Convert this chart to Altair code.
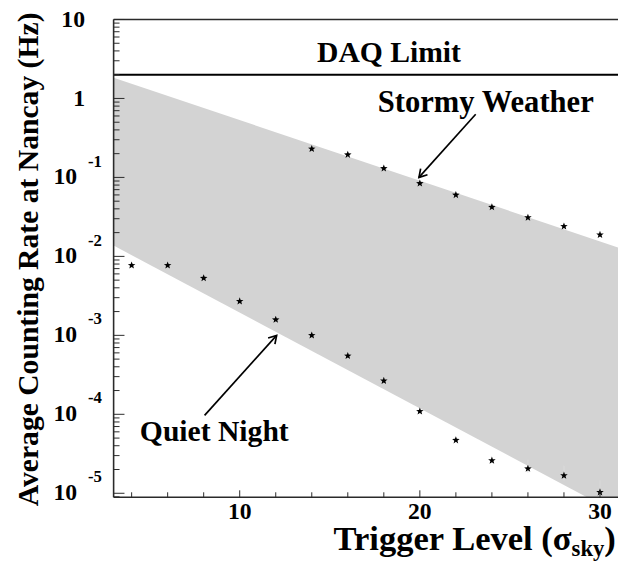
import math
import altair as alt
import pandas as pd

# ---------------- data ----------------
stormy_x = [14, 16, 18, 20, 22, 24, 26, 28, 30]
stormy_y = [0.230, 0.194, 0.130, 0.084, 0.060, 0.042, 0.031, 0.024, 0.0188]

quiet_x = [4, 6, 8, 10, 12, 14, 16, 18, 20, 22, 24, 26, 28, 30]
quiet_y = [7.7e-3, 7.7e-3, 5.3e-3, 2.7e-3, 1.58e-3, 1.0e-3, 5.5e-4, 2.66e-4,
           1.09e-4, 4.7e-5, 2.6e-5, 2.05e-5, 1.68e-5, 1.03e-5]

err_x = [26, 28, 30]
err_lo = [1.83e-5, 1.45e-5, 9.4e-6]
err_hi = [2.66e-5, 2.24e-5, 1.45e-5]

band_x = [3, 31]
band_hi = [1.83, 0.013]
band_lo = [0.0137, 5.5e-6]

daq_rate = 2.0
daq_x = [3, 31]

ytick_vals = [10, 1, 0.1, 0.01, 0.001, 1e-4, 1e-5]
ytick_base = ["10", "1", "10", "10", "10", "10", "10"]
ytick_exp = ["", "", "-1", "-2", "-3", "-4", "-5"]

xtick_major = [10, 20, 30]
xtick_minor = [4, 6, 8, 12, 14, 16, 18, 22, 24, 26, 28]

arrow_label = ["Stormy Weather", "Quiet Night"]
arrow_x0 = [23.1, 8.05]
arrow_y0 = [0.63, 9.7e-5]
arrow_x1 = [19.95, 12.05]
arrow_y1 = [0.1, 1.0e-3]

# ---------------- geometry / style ----------------
W, H = 511, 484
XMIN, XMAX = 3, 31
YMIN, YMAX = 10 ** -5.05, 10
FONT = "Liberation Serif"

xscale = alt.Scale(domain=[XMIN, XMAX], nice=False, zero=False)
yscale = alt.Scale(type="log", domain=[YMIN, YMAX], nice=False)

def X(f):
    return alt.X(f, type="quantitative", scale=xscale, axis=None)

def Y(f):
    return alt.Y(f, type="quantitative", scale=yscale, axis=None)

# star symbol path
pts = []
for k in range(10):
    r = 1.0 if k % 2 == 0 else 0.42
    a = math.radians(-90 + 36 * k)
    pts.append(f"{r*math.cos(a):.3f},{r*math.sin(a):.3f}")
STAR = "M" + " L".join(pts) + " Z"
CHEVRON = "M -1 -0.6 L 0 0 L -1 0.6"

def px(x):
    return (x - XMIN) / (XMAX - XMIN) * W

def py(y):
    return (math.log10(YMAX) - math.log10(y)) / (math.log10(YMAX) - math.log10(YMIN)) * H

arrow_angle = [
    (math.degrees(math.atan2(py(b) - py(a), px(d) - px(c))) + 360) % 360
    for a, b, c, d in zip(arrow_y0, arrow_y1, arrow_x0, arrow_x1)
]

band_df = pd.DataFrame({"x": band_x, "hi": band_hi, "lo": band_lo})
stormy_df = pd.DataFrame({"x": stormy_x, "y": stormy_y})
quiet_df = pd.DataFrame({"x": quiet_x, "y": quiet_y})
err_df = pd.DataFrame({"x": err_x, "lo": err_lo, "hi": err_hi})
daq_df = pd.DataFrame({"x": [daq_x[0]], "x2": [daq_x[1]], "y": [daq_rate]})
arrow_df = pd.DataFrame({"label": arrow_label, "x": arrow_x0, "y": arrow_y0,
                         "x2": arrow_x1, "y2": arrow_y1, "angle": arrow_angle})
ytick_df = pd.DataFrame({"y": ytick_vals, "base": ytick_base, "exp": ytick_exp})
yminor = []
for d in range(-6, 2):
    for m in range(2, 10):
        v = m * 10 ** d
        if YMIN <= v <= YMAX:
            yminor.append(v)
yminor_df = pd.DataFrame({"y": yminor})
ymajor_df = pd.DataFrame({"y": ytick_vals})
xmajor_df = pd.DataFrame({"x": xtick_major, "lab": [str(v) for v in xtick_major]})
xminor_df = pd.DataFrame({"x": xtick_minor})
one_df = pd.DataFrame({"k": [0]})

AX = "#2a2a2a"

band = alt.Chart(band_df).mark_area(color="#d3d3d3", clip=True).encode(
    x=X("x"), y=Y("hi"), y2="lo")

daq = alt.Chart(daq_df).mark_rule(color="black", strokeWidth=2).encode(
    x=X("x"), x2="x2", y=Y("y"))

errs = alt.Chart(err_df).mark_rule(color="#dadada", strokeWidth=1).encode(
    x=X("x"), y=Y("lo"), y2="hi")

stars_s = alt.Chart(stormy_df).mark_point(
    shape=STAR, filled=True, color="black", size=64, opacity=1).encode(x=X("x"), y=Y("y"))
stars_q = alt.Chart(quiet_df).mark_point(
    shape=STAR, filled=True, color="black", size=64, opacity=1, clip=True).encode(x=X("x"), y=Y("y"))

arrow_line = alt.Chart(arrow_df).mark_rule(color="black", strokeWidth=1.7).encode(
    x=X("x"), y=Y("y"), x2="x2", y2="y2")
arrow_head = alt.Chart(arrow_df).mark_point(
    shape=CHEVRON, filled=False, color="black", strokeWidth=1.7, size=240, opacity=1
).encode(x=X("x2"), y=Y("y2"), angle=alt.Angle("angle:Q", scale=None))

# frame
frame_left = alt.Chart(one_df).mark_rule(color=AX, strokeWidth=1.6).encode(
    x=alt.value(0), y=alt.value(0), y2=alt.value(H))
frame_top = alt.Chart(one_df).mark_rule(color=AX, strokeWidth=1.6).encode(
    x=alt.value(0), x2=alt.value(W), y=alt.value(0))
frame_bot = alt.Chart(one_df).mark_rule(color=AX, strokeWidth=1.6).encode(
    x=alt.value(0), x2=alt.value(W), y=alt.value(H))

# ticks (inward)
yt_major = alt.Chart(ymajor_df).mark_rule(color=AX, strokeWidth=1).encode(
    y=Y("y"), x=alt.value(0), x2=alt.value(11))
yt_minor = alt.Chart(yminor_df).mark_rule(color=AX, strokeWidth=1).encode(
    y=Y("y"), x=alt.value(0), x2=alt.value(6))
xt_major = alt.Chart(xmajor_df).mark_rule(color=AX, strokeWidth=1).encode(
    x=X("x"), y=alt.value(H), y2=alt.value(H - 7))
xt_minor = alt.Chart(xminor_df).mark_rule(color=AX, strokeWidth=1).encode(
    x=X("x"), y=alt.value(H), y2=alt.value(H - 5))

# tick labels
txt = dict(font=FONT, fontWeight="bold", color="black", baseline="middle")
ylab_plain = alt.Chart(ytick_df).transform_filter("datum.exp == ''").mark_text(
    align="right", fontSize=24, dy=1, **txt).encode(y=Y("y"), x=alt.value(-29), text="base:N")
ylab_base = alt.Chart(ytick_df).transform_filter("datum.exp != ''").mark_text(
    align="right", fontSize=24, **txt).encode(y=Y("y"), x=alt.value(-37), text="base:N")
ylab_exp = alt.Chart(ytick_df).transform_filter("datum.exp != ''").mark_text(
    align="left", fontSize=17, dy=-16, **txt).encode(y=Y("y"), x=alt.value(-26), text="exp:N")
xlab = alt.Chart(xmajor_df).mark_text(align="center", fontSize=24, **txt).encode(
    x=X("x"), y=alt.value(499), text="lab:N")

# titles and annotations
ytitle = alt.Chart(one_df).mark_text(
    text="Average Counting Rate at Nancay (Hz)", angle=270, align="center",
    fontSize=30, **txt).encode(x=alt.value(-86), y=alt.value(243))
xt_main = alt.Chart(one_df).mark_text(
    text="Trigger Level (σ", align="right", fontSize=35, font=FONT, fontWeight="bold",
    color="black", baseline="alphabetic").encode(x=alt.value(464), y=alt.value(537))
xt_sub = alt.Chart(one_df).mark_text(
    text="sky", align="left", fontSize=23, font=FONT, fontWeight="bold",
    color="black", baseline="alphabetic").encode(x=alt.value(464), y=alt.value(544))
xt_close = alt.Chart(one_df).mark_text(
    text=")", align="left", fontSize=35, font=FONT, fontWeight="bold",
    color="black", baseline="alphabetic").encode(x=alt.value(497), y=alt.value(537))

ann = dict(font=FONT, fontWeight="bold", color="black", baseline="alphabetic", align="center")
daq_txt = alt.Chart(one_df).mark_text(text="DAQ Limit", fontSize=30, **ann).encode(
    x=alt.value(279), y=alt.value(43))
storm_txt = alt.Chart(one_df).mark_text(text="Stormy Weather", fontSize=31, **ann).encode(
    x=alt.value(377), y=alt.value(94))
quiet_txt = alt.Chart(one_df).mark_text(text="Quiet Night", fontSize=30, **ann).encode(
    x=alt.value(102), y=alt.value(427))

chart = alt.layer(
    band, errs, daq, stars_s, stars_q, arrow_line, arrow_head,
    frame_left, frame_top, frame_bot, yt_major, yt_minor, xt_major, xt_minor,
    ylab_plain, ylab_base, ylab_exp, xlab, ytitle, xt_main, xt_sub, xt_close,
    daq_txt, storm_txt, quiet_txt,
).properties(
    width=W, height=H,
    autosize=alt.AutoSizeParams(type="none"),
    padding={"left": 107, "top": 8, "right": 0, "bottom": 63},
    background="white",
).configure_view(stroke=None)

chart.save("out.html", embed_options={"renderer": "svg", "actions": False})
